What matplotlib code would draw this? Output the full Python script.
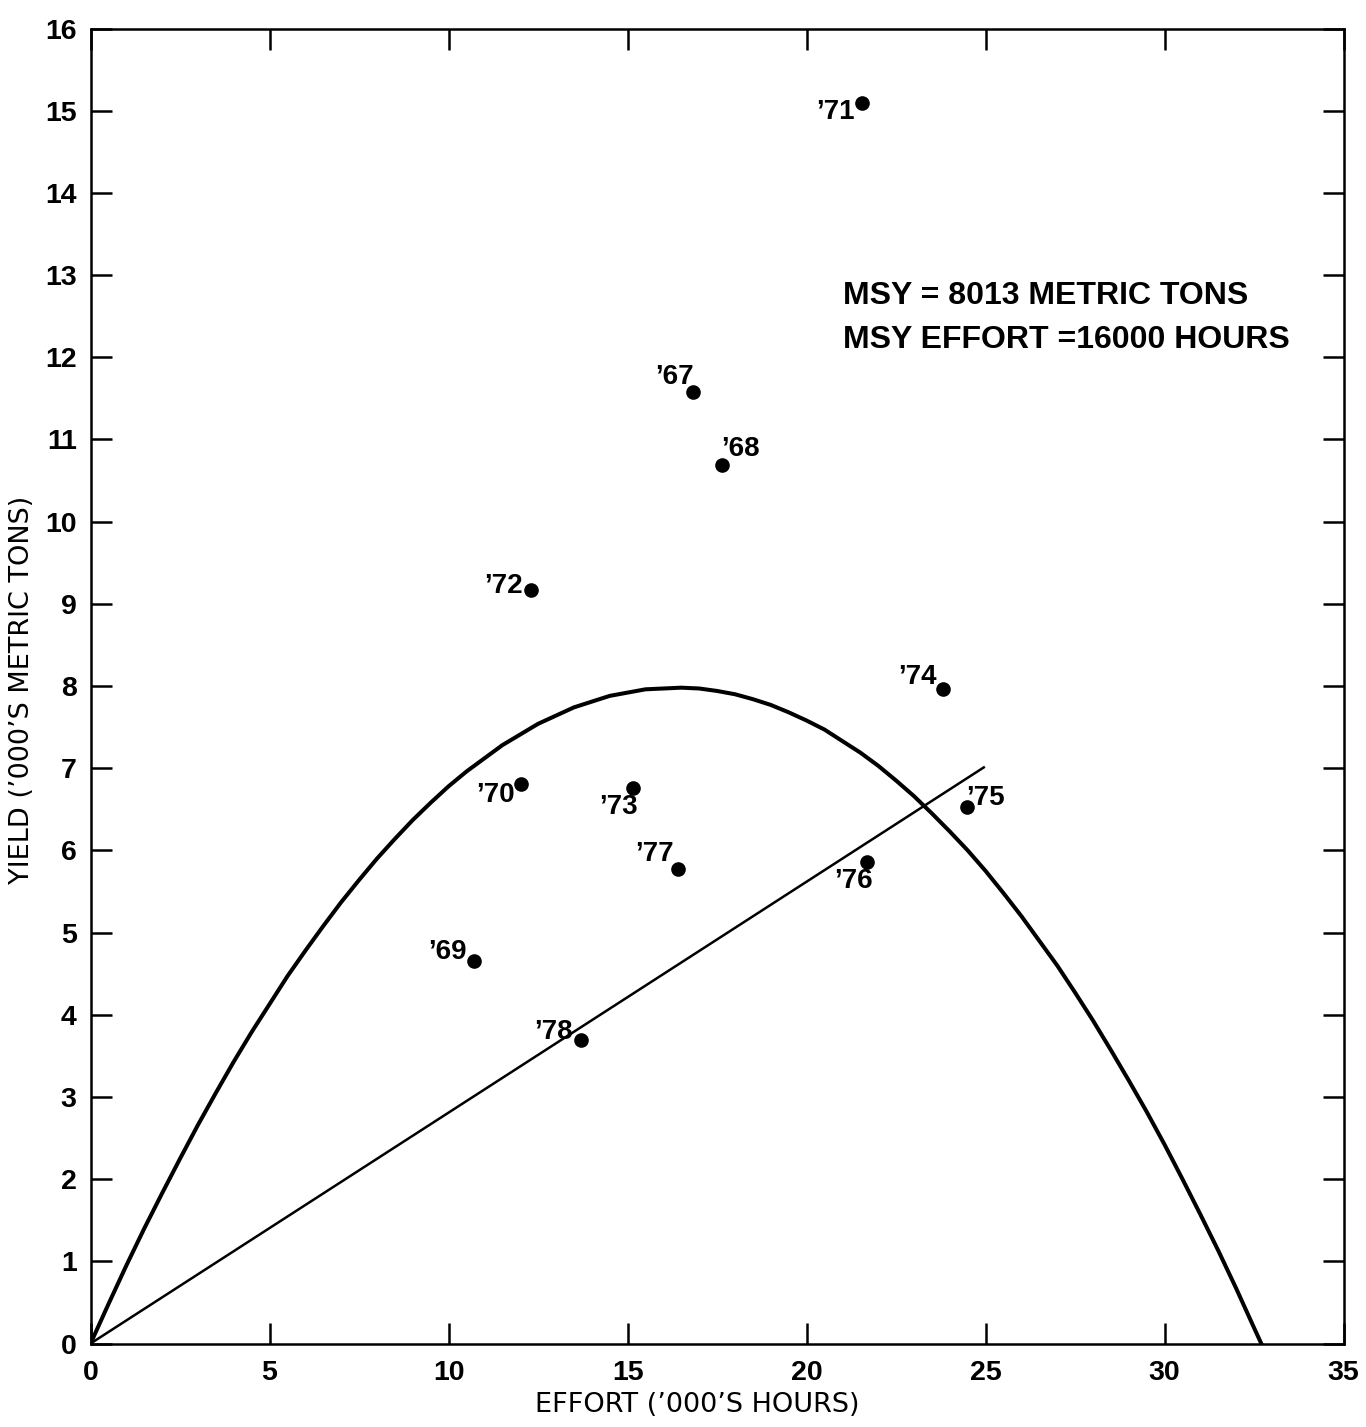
import matplotlib
matplotlib.use("Agg")
import matplotlib.pyplot as plt
import numpy as np

plt.rcParams.update({
    "font.family": ["Liberation Sans", "DejaVu Sans"],
    "axes.linewidth": 1.8,
})

# ---- data ('000s) ----
years = ["’67", "’68", "’69", "’70", "’71", "’72",
         "’73", "’74", "’75", "’76", "’77", "’78"]
effort = [16.84, 17.64, 10.72, 12.02, 21.55, 12.31,
          15.15, 23.82, 24.47, 21.68, 16.40, 13.70]
yield_t = [11.58, 10.69, 4.65, 6.81, 15.10, 9.17,
           6.76, 7.96, 6.53, 5.86, 5.77, 3.69]

# surplus-production curve, read every 500 hours of effort
curve_effort = [0, 0.5, 1, 1.5, 2, 2.5, 3, 3.5, 4, 4.5, 5, 5.5, 6, 6.5,
                7, 7.5, 8, 8.5, 9, 9.5, 10, 10.5, 11, 11.5, 12, 12.5, 13,
                13.5, 14, 14.5, 15, 15.5, 16, 16.5, 17, 17.5, 18, 18.5, 19,
                19.5, 20, 20.5, 21, 21.5, 22, 22.5, 23, 23.5, 24, 24.5, 25,
                25.5, 26, 26.5, 27, 27.5, 28, 28.5, 29, 29.5, 30, 30.5, 31,
                31.5, 32, 32.5, 32.7]
curve_yield = [0.0, 0.48, 0.95, 1.40, 1.83, 2.25, 2.66, 3.05, 3.43, 3.79,
               4.13, 4.47, 4.78, 5.08, 5.37, 5.64, 5.90, 6.14, 6.37, 6.58,
               6.78, 6.96, 7.12, 7.28, 7.41, 7.54, 7.64, 7.74, 7.81, 7.88,
               7.92, 7.96, 7.97, 7.98, 7.97, 7.94, 7.90, 7.84, 7.77, 7.68,
               7.58, 7.47, 7.33, 7.19, 7.03, 6.85, 6.66, 6.45, 6.23, 6.00,
               5.75, 5.48, 5.20, 4.90, 4.60, 4.27, 3.93, 3.57, 3.20, 2.82,
               2.42, 2.00, 1.57, 1.13, 0.67, 0.19, 0.0]

# straight line through the origin
line_effort = [0, 24.95]
line_yield = [0, 7.01]

# label offsets (pixels) relative to each dot
label_offsets = {
    "’67": (-19, 15), "’68": (18, 16), "’69": (-27, 9), "’70": (-25, -11),
    "’71": (-27, -9), "’72": (-28, 4), "’73": (-14, -19), "’74": (-26, 12),
    "’75": (19, 9), "’76": (-13, -19), "’77": (-23, 15), "’78": (-28, 8),
}

fig = plt.figure(figsize=(13.66, 14.27), dpi=100)
ax = fig.add_axes([0.0663, 0.0585, 0.9173, 0.9215])

ax.plot(curve_effort, curve_yield, color="black", linewidth=2.9,
        solid_joinstyle="round")
ax.plot(line_effort, line_yield, color="black", linewidth=1.8)
ax.plot(effort, yield_t, "o", color="black", markersize=9.5, linestyle="none")

for lab, x, y in zip(years, effort, yield_t):
    dx, dy = label_offsets[lab]
    ax.annotate(lab, (x, y), xytext=(dx, dy), textcoords="offset pixels",
                ha="center", va="center", fontsize=20, fontweight="bold")

ax.set_xlim(0, 35)
ax.set_ylim(0, 16)
ax.set_xticks(np.arange(0, 36, 5))
ax.set_yticks(np.arange(0, 17, 1))
ax.tick_params(axis="both", direction="in", length=15, width=1.8,
               top=True, right=True, labelsize=20.5)
ax.tick_params(axis="x", pad=12)
ax.tick_params(axis="y", pad=10)
for t in ax.get_xticklabels() + ax.get_yticklabels():
    t.set_fontweight("bold")

fig.text(843 / 1366, 1 - 296 / 1427, "MSY = 8013 METRIC TONS",
         ha="left", va="center", fontsize=23, fontweight="bold")
fig.text(843 / 1366, 1 - 340 / 1427, "MSY EFFORT =16000 HOURS",
         ha="left", va="center", fontsize=23, fontweight="bold")

fig.text(22 / 1366, 1 - 690 / 1427, "YIELD (’000’S METRIC TONS)",
         rotation=90, ha="center", va="center", fontsize=19.5,
         family="DejaVu Sans")
fig.text(697 / 1366, 1 - 1405 / 1427, "EFFORT (’000’S HOURS)",
         ha="center", va="center", fontsize=19.5, family="DejaVu Sans")

fig.savefig("out.png", dpi=100)
